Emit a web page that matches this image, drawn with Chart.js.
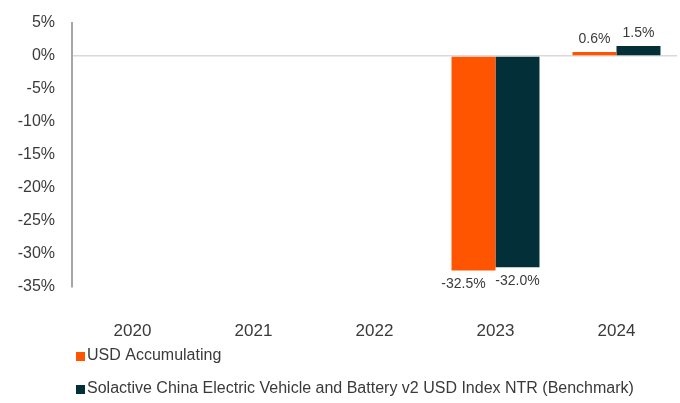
<!DOCTYPE html>
<html>
<head>
<meta charset="utf-8">
<script src="https://cdn.jsdelivr.net/npm/chart.js@4"></script>
<style>
  html, body { margin: 0; padding: 0; background: #fff; }
  #wrap { width: 680px; height: 403px; }
</style>
</head>
<body>
<div id="wrap"><canvas id="chart" width="680" height="403"></canvas></div>
<script>
const years = ['2020', '2021', '2022', '2023', '2024'];
const fundReturns = [null, null, null, -32.5, 0.6];
const benchReturns = [null, null, null, -32.0, 1.5];
const seriesNames = [
    'USD Accumulating',
    'Solactive China Electric Vehicle and Battery v2 USD Index NTR (Benchmark)'
];
const yTicks = [5, 0, -5, -10, -15, -20, -25, -30, -35];

const FONT = "'Liberation Sans', Arial, sans-serif";
const TEXT = '#3a3a3a';

// value labels above / below each bar
const valueLabels = {
    id: 'valueLabels',
    afterDatasetsDraw(chart) {
        const ctx = chart.ctx;
        ctx.save();
        ctx.font = '14px ' + FONT;
        ctx.fillStyle = TEXT;
        ctx.textAlign = 'center';
        chart.data.datasets.forEach((ds, i) => {
            chart.getDatasetMeta(i).data.forEach((bar, j) => {
                const v = ds.data[j];
                if (v === null) return;
                const txt = v.toFixed(1) + '%';
                // negative labels sit a little apart so they don't touch
                const dx = v < 0 ? (i === 0 ? -10 : 0) : 0;
                if (v >= 0) {
                    ctx.textBaseline = 'bottom';
                    ctx.fillText(txt, bar.x + dx, bar.y - 6);
                } else {
                    ctx.textBaseline = 'top';
                    ctx.fillText(txt, bar.x + dx, bar.y + 7);
                }
            });
        });
        ctx.restore();
    }
};

// stacked legend at the bottom left
const stackedLegend = {
    id: 'stackedLegend',
    afterDraw(chart) {
        const ctx = chart.ctx;
        ctx.save();
        ctx.font = '16px ' + FONT;
        ctx.textBaseline = 'middle';
        ctx.textAlign = 'left';
        chart.data.datasets.forEach((ds, i) => {
            const y = 356 + i * 33;
            ctx.fillStyle = ds.backgroundColor;
            ctx.fillRect(76, y - 4, 9, 9);
            ctx.fillStyle = TEXT;
            ctx.fillText(ds.label, 87, y);
        });
        ctx.restore();
    }
};

new Chart(document.getElementById('chart'), {
    type: 'bar',
    data: {
        labels: years,
        datasets: [
            { label: seriesNames[0], data: fundReturns, backgroundColor: '#FF5500' },
            { label: seriesNames[1], data: benchReturns, backgroundColor: '#032F38' }
        ]
    },
    options: {
        responsive: false,
        animation: false,
        layout: { padding: { top: 23, right: 3, left: 0, bottom: 0 } },
        datasets: {
            bar: { categoryPercentage: 0.727, barPercentage: 1.0 }
        },
        scales: {
            x: {
                grid: { display: false, drawTicks: false },
                border: { display: false },
                ticks: { color: TEXT, font: { family: FONT, size: 17 }, padding: 34 },
                afterFit: s => { s.height = 116; }
            },
            y: {
                min: -35,
                max: 5,
                afterBuildTicks: s => { s.ticks = yTicks.map(v => ({ value: v })); },
                grid: {
                    drawTicks: false,
                    color: c => c.tick && c.tick.value === 0 ? '#d9d9d9' : 'rgba(0,0,0,0)',
                    lineWidth: 1.5
                },
                border: { display: true, color: '#a6a6a6', width: 2 },
                ticks: {
                    color: TEXT,
                    font: { family: FONT, size: 16 },
                    padding: 17,
                    callback: v => v + '%'
                },
                afterFit: s => { s.width = 72; s.paddingTop = 0; s.paddingBottom = 0; }
            }
        },
        plugins: {
            legend: { display: false },
            tooltip: { enabled: false }
        }
    },
    plugins: [valueLabels, stackedLegend]
});
</script>
</body>
</html>
